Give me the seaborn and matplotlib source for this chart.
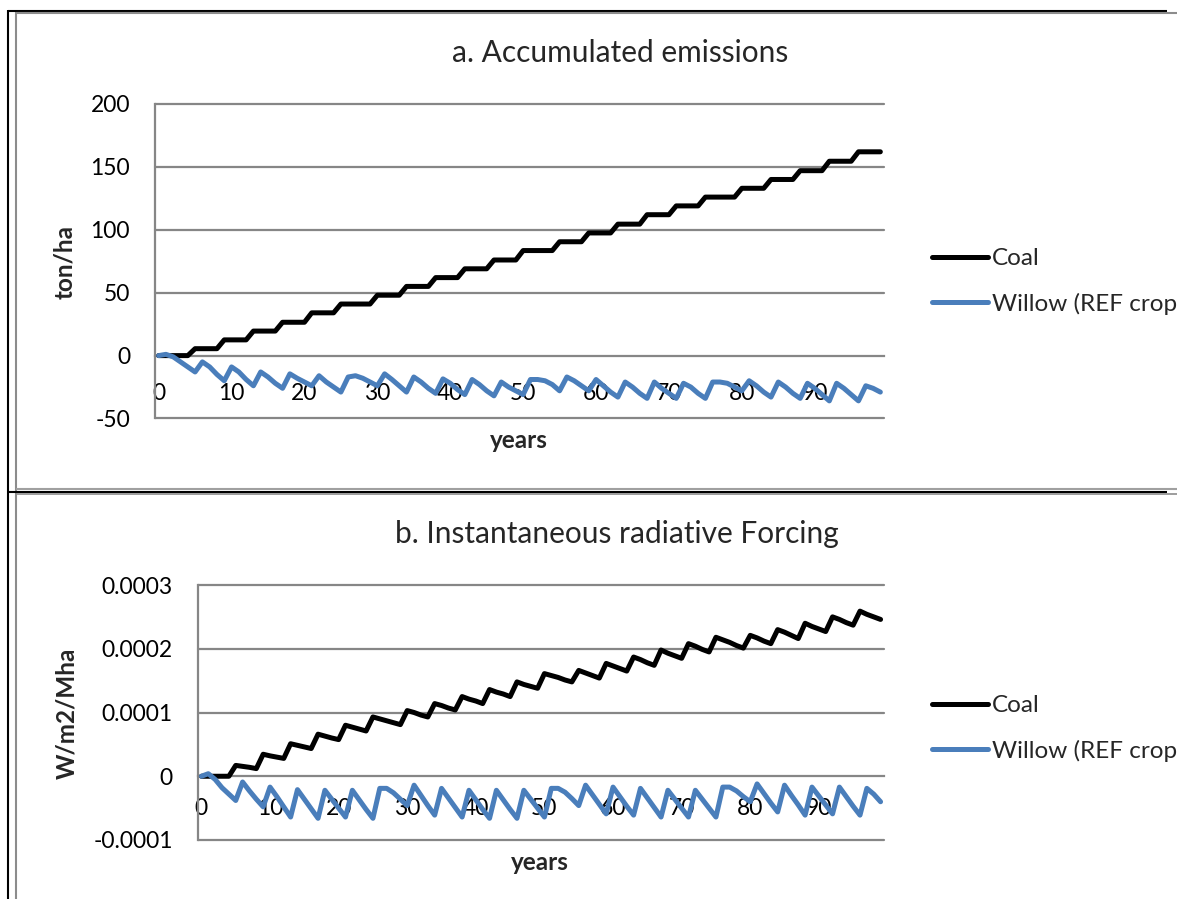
import matplotlib
matplotlib.use("Agg")
import matplotlib.pyplot as plt
import seaborn as sns
import pandas as pd
from matplotlib.lines import Line2D

# ---------------- data ----------------
years = list(range(100))

coal_acc = [0, 0, 0, 0, 0, 5.5, 5.5, 5.5, 5.5, 12.5, 12.5, 12.5, 12.5,
            19.5, 19.5, 19.5, 19.5, 26.5, 26.5, 26.5, 26.5, 34, 34, 34, 34,
            41, 41, 41, 41, 41, 48, 48, 48, 48, 55, 55, 55, 55, 62, 62, 62, 62,
            69, 69, 69, 69, 76, 76, 76, 76, 83.5, 83.5, 83.5, 83.5, 83.5,
            90.5, 90.5, 90.5, 90.5, 97.5, 97.5, 97.5, 97.5,
            104.5, 104.5, 104.5, 104.5, 112, 112, 112, 112, 119, 119, 119, 119,
            126, 126, 126, 126, 126, 133, 133, 133, 133, 140, 140, 140, 140,
            147, 147, 147, 147, 154.5, 154.5, 154.5, 154.5, 162, 162, 162, 162]

willow_acc = [0, 1, -1, -5, -9, -13, -5, -9, -15, -20, -9, -13, -19, -24,
              -13, -17, -22, -26, -14.5, -18, -21, -24, -16, -21, -25, -29,
              -17, -16, -18, -21, -24, -14.5, -19, -24, -29, -17, -21, -26, -30,
              -18.5, -22, -27, -31, -19, -23, -28, -32, -21, -25, -28, -31,
              -19, -19, -20, -23, -28, -17, -20, -24, -28, -19, -24, -29, -33,
              -21, -25, -30, -34, -21, -26, -30, -34, -22, -25, -30, -34,
              -21, -21, -22, -25, -28, -20, -24, -29, -33, -21, -25, -30, -34,
              -22, -26, -31, -36, -22, -26, -31, -36, -24, -26, -29]

# radiative forcing, in units of 1e-5 W/m2/Mha
coal_rf_e5 = [0, 0, 0, 0, 0, 1.7, 1.55, 1.4, 1.2, 3.45, 3.2, 3.0, 2.8,
              5.1, 4.85, 4.6, 4.35, 6.6, 6.3, 6.0, 5.75, 8.0, 7.7, 7.4, 7.1,
              9.3, 9.0, 8.7, 8.4, 8.1, 10.3, 10.0, 9.6, 9.3, 11.4, 11.1, 10.7, 10.4,
              12.5, 12.1, 11.8, 11.4, 13.6, 13.2, 12.9, 12.5, 14.8, 14.4, 14.1, 13.8,
              16.1, 15.8, 15.5, 15.1, 14.8, 16.6, 16.2, 15.8, 15.4,
              17.7, 17.3, 16.9, 16.5, 18.7, 18.3, 17.8, 17.4, 19.8, 19.3, 18.9, 18.5,
              20.8, 20.4, 19.9, 19.5, 21.8, 21.4, 21.0, 20.5, 20.1,
              22.1, 21.7, 21.2, 20.8, 23.0, 22.6, 22.1, 21.6, 24.0, 23.5, 23.1, 22.7,
              25.0, 24.6, 24.1, 23.7, 25.9, 25.4, 25.0, 24.6]

willow_rf_e5 = [0, 0.4, -0.5, -1.8, -2.8, -3.8, -0.9, -2.3, -3.6, -4.8,
                -1.7, -3.2, -4.8, -6.4, -2.1, -3.6, -5.1, -6.6, -2.2, -3.6, -5.0, -6.4,
                -2.2, -3.7, -5.2, -6.6, -1.9, -1.9, -2.6, -3.6, -4.6,
                -1.4, -3.0, -4.6, -6.1, -1.9, -3.4, -4.9, -6.4, -2.2, -3.7, -5.2, -6.6,
                -2.2, -3.7, -5.2, -6.6, -2.2, -3.6, -5.0, -6.4,
                -1.9, -1.9, -2.5, -3.5, -4.6, -1.4, -2.9, -4.4, -5.9,
                -1.7, -3.2, -4.7, -6.1, -1.9, -3.4, -4.9, -6.4, -2.2, -3.6, -5.0, -6.4,
                -2.2, -3.6, -5.0, -6.4, -1.7, -1.7, -2.3, -3.2, -4.0,
                -1.2, -2.7, -4.2, -5.6, -1.4, -3.0, -4.5, -6.1, -1.7, -3.1, -4.5, -5.9,
                -1.7, -3.2, -4.7, -6.1, -1.9, -2.8, -4.0]

series_names = ["Coal", "Willow (REF crop)"]
series_colors = ["#000000", "#4A7EBB"]

x_ticks = [0, 10, 20, 30, 40, 50, 60, 70, 80, 90]
x_ticklabels = ["0", "10", "20", "30", "40", "50", "60", "70", "80", "90"]

y1_ticks = [-50, 0, 50, 100, 150, 200]
y1_ticklabels = ["-50", "0", "50", "100", "150", "200"]
y2_ticks = [-0.0001, 0, 0.0001, 0.0002, 0.0003]
y2_ticklabels = ["-0.0001", "0", "0.0001", "0.0002", "0.0003"]

title_a = "a. Accumulated emissions"
title_b = "b. Instantaneous radiative Forcing"
ylabel_a = "ton/ha"
ylabel_b = "W/m2/Mha"
xlabel = "years"

# ---------------- style ----------------
sns.set_theme(style="white")
plt.rcParams['font.family'] = ['Lato', 'DejaVu Sans']

W, H = 1177, 899
fig = plt.figure(figsize=(W / 100, H / 100), dpi=100)
fig.patch.set_facecolor("white")


def fx(px):
    return px / W


def fy(py):
    return 1 - py / H


GRID = "#868686"
TICK_FS = 16.5
LEG_FS = 17.5
LAB_FS = 17.5
TITLE_FS = 21.5
LW = 3.6

df1 = pd.DataFrame({"year": years * 2,
                    "value": coal_acc + willow_acc,
                    "series": [series_names[0]] * len(years) + [series_names[1]] * len(years)})
df2 = pd.DataFrame({"year": years * 2,
                    "value": [v * 1e-5 for v in coal_rf_e5] + [v * 1e-5 for v in willow_rf_e5],
                    "series": [series_names[0]] * len(years) + [series_names[1]] * len(years)})


def draw_panel(ax, df, yticks, yticklabels, xpad):
    sns.lineplot(data=df, x="year", y="value", hue="series", hue_order=series_names,
                 palette=series_colors, linewidth=LW, ax=ax, legend=False,
                 estimator=None, sort=False)
    for ln in ax.lines:
        ln.set_solid_joinstyle("round")
        ln.set_solid_capstyle("round")
        ln.set_zorder(5)
        ln.set_clip_on(False)
    ax.set_xlim(-0.5, 99.5)
    ax.set_ylim(yticks[0], yticks[-1])
    ax.set_yticks(yticks)
    ax.set_yticklabels(yticklabels)
    ax.set_xticks(x_ticks)
    ax.set_xticklabels(x_ticklabels)
    ax.set_xlabel("")
    ax.set_ylabel("")
    for t in yticks:
        if t != 0:
            ax.axhline(t, color=GRID, lw=1.6, zorder=1, clip_on=False)
    for s in ["top", "right"]:
        ax.spines[s].set_visible(False)
    ax.spines["left"].set_color(GRID)
    ax.spines["left"].set_linewidth(1.6)
    ax.spines["bottom"].set_position(("data", 0))
    ax.spines["bottom"].set_color(GRID)
    ax.spines["bottom"].set_linewidth(1.6)
    ax.tick_params(axis="y", length=0, pad=18, labelsize=TICK_FS, labelcolor="black")
    ax.tick_params(axis="x", length=0, pad=xpad, labelsize=TICK_FS, labelcolor="black")
    ax.patch.set_alpha(0)
    handles = [Line2D([0], [0], color=c, lw=LW) for c in series_colors]
    return handles


leg_kw = dict(bbox_transform=fig.transFigure, frameon=False, fontsize=LEG_FS,
              handlelength=2.3, handletextpad=0.165, labelspacing=0.95,
              borderpad=0, borderaxespad=0, loc="center left")

ax1 = fig.add_axes([fx(155), fy(418.5), fx(884) - fx(155), fy(104) - fy(418.5)])
h = draw_panel(ax1, df1, y1_ticks, y1_ticklabels, xpad=20)
ax1.legend(h, series_names, bbox_to_anchor=(fx(932), fy(281.5)), **leg_kw)

ax2 = fig.add_axes([fx(198), fy(840), fx(884) - fx(198), fy(585) - fy(840)])
h = draw_panel(ax2, df2, y2_ticks, y2_ticklabels, xpad=16)
ax2.legend(h, series_names, bbox_to_anchor=(fx(932), fy(728.5)), **leg_kw)

# titles and axis labels
fig.text(fx(620), fy(53), title_a, ha="center", va="center", fontsize=TITLE_FS)
fig.text(fx(617), fy(534), title_b, ha="center", va="center", fontsize=TITLE_FS)
fig.text(fx(65), fy(262), ylabel_a, ha="center", va="center", rotation=90,
         fontsize=LAB_FS, fontweight="bold")
fig.text(fx(67), fy(713), ylabel_b, ha="center", va="center", rotation=90,
         fontsize=LAB_FS, fontweight="bold")
fig.text(fx(519), fy(441), xlabel, ha="center", va="center",
         fontsize=LAB_FS, fontweight="bold")
fig.text(fx(540), fy(862), xlabel, ha="center", va="center",
         fontsize=LAB_FS, fontweight="bold")

# surrounding frame lines (table / chart borders)
def hline(y, x0, x1, color, lw):
    fig.add_artist(Line2D([fx(x0), fx(x1)], [fy(y), fy(y)], color=color, lw=lw,
                          transform=fig.transFigure, solid_capstyle="butt"))


def vline(x, y0, y1, color, lw):
    fig.add_artist(Line2D([fx(x), fx(x)], [fy(y0), fy(y1)], color=color, lw=lw,
                          transform=fig.transFigure, solid_capstyle="butt"))

FRAME = "#8C8C8C"
vline(8.3, 10, 899, "black", 1.5)
hline(10.8, 7.5, 1167, "black", 1.5)
vline(16.3, 12, 899, FRAME, 1.5)
hline(12.8, 16, 1177, FRAME, 1.5)
hline(489.3, 16, 1177, "#A0A0A0", 1.5)
hline(491.6, 7.5, 1167, "black", 1.5)
hline(493.5, 16, 1177, FRAME, 1.2)

fig.savefig("out.png", dpi=100)
